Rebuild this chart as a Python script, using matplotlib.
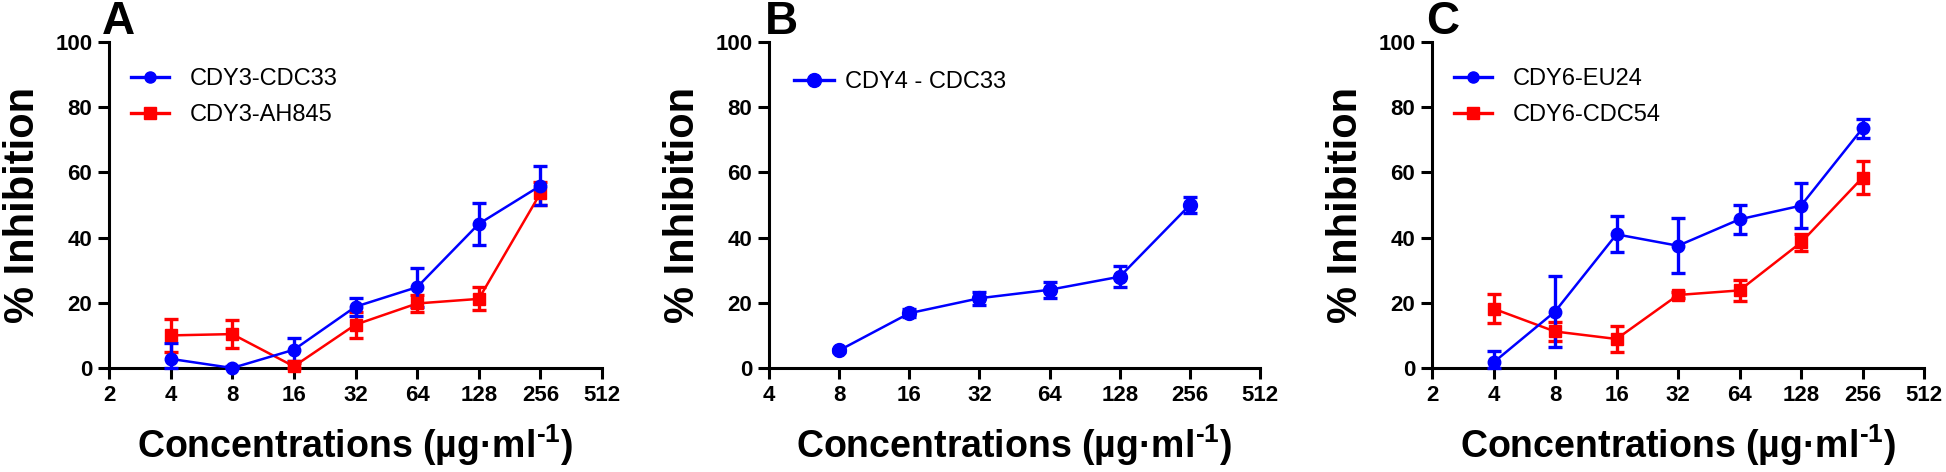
import matplotlib
matplotlib.use("Agg")
import matplotlib.pyplot as plt
from matplotlib.lines import Line2D
from matplotlib.ticker import FixedLocator, FixedFormatter, NullLocator

plt.rcParams['font.family'] = ['Liberation Sans', 'DejaVu Sans']
plt.rcParams['mathtext.fontset'] = 'custom'
plt.rcParams['mathtext.rm'] = 'Liberation Sans:bold'
plt.rcParams['mathtext.bf'] = 'Liberation Sans:bold'

# panel A
concA = [4, 8, 16, 32, 64, 128, 256]
cdy3_cdc33 = [2.8, 0.0, 5.6, 18.8, 24.8, 44.2, 55.9]
cdy3_cdc33_err = [5.0, 0.5, 3.5, 2.8, 6.0, 6.5, 6.0]
cdy3_ah845 = [10.0, 10.4, 0.5, 13.3, 19.8, 21.2, 53.6]
cdy3_ah845_err = [5.0, 4.2, 1.0, 4.0, 2.5, 3.5, 3.5]

# panel B
concB = [8, 16, 32, 64, 128, 256]
cdy4_cdc33 = [5.4, 16.8, 21.4, 24.0, 28.0, 50.0]
cdy4_cdc33_err = [0.5, 1.2, 2.0, 2.5, 3.2, 2.5]

# panel C
concC = [4, 8, 16, 32, 64, 128, 256]
cdy6_eu24 = [1.7, 17.3, 41.0, 37.5, 45.6, 49.8, 73.5]
cdy6_eu24_err = [3.5, 10.8, 5.5, 8.5, 4.5, 7.0, 3.0]
cdy6_cdc54 = [18.2, 11.2, 8.9, 22.4, 23.8, 38.5, 58.4]
cdy6_cdc54_err = [4.5, 3.0, 4.0, 1.0, 3.2, 2.5, 5.0]

BLUE = '#0000ff'
RED = '#ff0000'

W, H = 1946, 472
fig = plt.figure(figsize=(W / 100, H / 100), dpi=100, facecolor='white')


def make_axes(left_px, right_px, xmin, letter, letter_x):
    ax = fig.add_axes([left_px / W, 1 - 368 / H, (right_px - left_px) / W, 326 / H])
    ax.set_xscale('log', base=2)
    ax.set_xlim(xmin, 512)
    ax.set_ylim(0, 100)
    ticks = []
    t = xmin
    while t <= 512:
        ticks.append(t)
        t *= 2
    ax.xaxis.set_major_locator(FixedLocator(ticks))
    ax.xaxis.set_major_formatter(FixedFormatter([str(v) for v in ticks]))
    ax.xaxis.set_minor_locator(NullLocator())
    ax.set_yticks([0, 20, 40, 60, 80, 100])
    for s in ['top', 'right']:
        ax.spines[s].set_visible(False)
    for s in ['left', 'bottom']:
        ax.spines[s].set_linewidth(2.2)
    ax.tick_params(width=2.2, length=8, labelsize=16, pad=4)
    for lab in ax.get_xticklabels() + ax.get_yticklabels():
        lab.set_fontweight('bold')
    ax.set_xlabel('Concentrations (\u00b5g\u00b7ml$^{\\text{-1}}$)', fontsize=27,
                  fontweight='bold', labelpad=12)
    ax.set_ylabel('% Inhibition', fontsize=30, fontweight='bold', labelpad=9)
    fig.text(letter_x / W, 1.0, letter, fontsize=33, fontweight='bold', ha='left', va='top')
    return ax


def series(ax, x, y, err, color, marker, ms):
    lower = [min(e, v) for e, v in zip(err, y)]
    ax.errorbar(x, y, yerr=[lower, err], color=color, marker=marker, ms=ms, lw=1.8,
                elinewidth=2.4, capsize=5, capthick=2.4, clip_on=False, zorder=3)


def handle(color, marker, ms):
    return Line2D([], [], color=color, marker=marker, ms=ms, lw=2.4)


axA = make_axes(109, 602, 2, 'A', 102)
series(axA, concA, cdy3_ah845, cdy3_ah845_err, RED, 's', 9)
series(axA, concA, cdy3_cdc33, cdy3_cdc33_err, BLUE, 'o', 9)

axB = make_axes(769, 1260, 4, 'B', 765)
series(axB, concB, cdy4_cdc33, cdy4_cdc33_err, BLUE, 'o', 10)

axC = make_axes(1432, 1924, 2, 'C', 1426)
series(axC, concC, cdy6_cdc54, cdy6_cdc54_err, RED, 's', 9)
series(axC, concC, cdy6_eu24, cdy6_eu24_err, BLUE, 'o', 9)

leg_kw = dict(loc='upper left', frameon=False, fontsize=17, borderpad=0, borderaxespad=0)
axA.legend([handle(BLUE, 'o', 8), handle(RED, 's', 8)], ['CDY3-CDC33', 'CDY3-AH845'],
           bbox_to_anchor=(0.045, 0.92), handlelength=1.6, handletextpad=0.9,
           labelspacing=0.6, **leg_kw)
axB.legend([handle(BLUE, 'o', 10)], ['CDY4 - CDC33'], bbox_to_anchor=(0.05, 0.91),
           handlelength=1.7, handletextpad=0.5, **leg_kw)
axC.legend([handle(BLUE, 'o', 8), handle(RED, 's', 8)], ['CDY6-EU24', 'CDY6-CDC54'],
           bbox_to_anchor=(0.045, 0.92), handlelength=1.6, handletextpad=0.9,
           labelspacing=0.6, **leg_kw)

fig.savefig('out.png', dpi=100, facecolor='white')
